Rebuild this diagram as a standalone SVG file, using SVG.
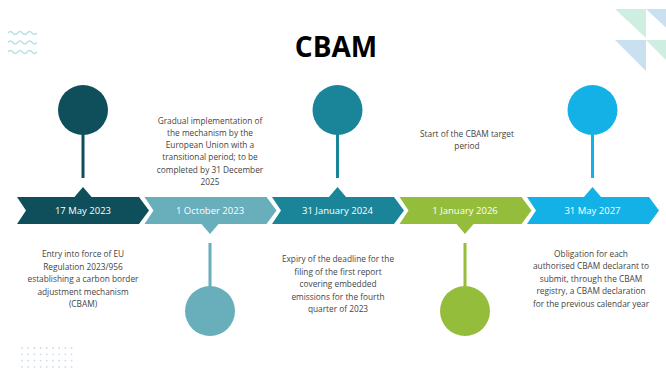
<svg xmlns="http://www.w3.org/2000/svg" width="666" height="372" viewBox="0 0 666 372">
<style>
.lbl{font-family:"Open Sans","Liberation Sans",sans-serif;font-size:9.5px;fill:#ffffff;text-anchor:middle}
.desc{font-family:"Open Sans","Liberation Sans",sans-serif;font-size:8.3px;fill:#444444;text-anchor:middle}
.title{font-family:"Open Sans","Liberation Sans",sans-serif;font-size:28px;font-weight:bold;fill:#000000;text-anchor:middle}
.wave{fill:none;stroke:#b5e0e4;stroke-width:1.3}
.dot{fill:#cddcea}
</style>
<defs>
<path id="chev" d="M0,197 H122 L132,210.5 L122,224 H0 L9,210.5 Z"/>
</defs>
<rect width="666" height="372" fill="#ffffff"/>
<g id="decor">
<path class="wave" d="M8,33 q2.4,-3 4.8,0 t4.8,0 t4.8,0 t4.8,0 t4.8,0 t4.8,0"/>
<path class="wave" d="M8,42.5 q2.4,-3 4.8,0 t4.8,0 t4.8,0 t4.8,0 t4.8,0 t4.8,0"/>
<path class="wave" d="M8,52 q2.4,-3 4.8,0 t4.8,0 t4.8,0 t4.8,0 t4.8,0 t4.8,0"/>
<polygon points="615,9 646,9 646,38" fill="#cdeee0"/>
<polygon points="646,9 677,9 677,38" fill="#c8e0ef"/>
<polygon points="615,40 646,40 646,71" fill="#c8e0ef"/>
<polygon points="646,40 677,40 677,71" fill="#cdeee0"/>
<g id="dots">
<circle class="dot" cx="22" cy="348" r="0.9"/><circle class="dot" cx="28.2" cy="348" r="0.9"/><circle class="dot" cx="34.4" cy="348" r="0.9"/><circle class="dot" cx="40.6" cy="348" r="0.9"/><circle class="dot" cx="46.8" cy="348" r="0.9"/><circle class="dot" cx="53" cy="348" r="0.9"/><circle class="dot" cx="59.2" cy="348" r="0.9"/><circle class="dot" cx="65.4" cy="348" r="0.9"/><circle class="dot" cx="71.6" cy="348" r="0.9"/>
<circle class="dot" cx="22" cy="354.3" r="0.9"/><circle class="dot" cx="28.2" cy="354.3" r="0.9"/><circle class="dot" cx="34.4" cy="354.3" r="0.9"/><circle class="dot" cx="40.6" cy="354.3" r="0.9"/><circle class="dot" cx="46.8" cy="354.3" r="0.9"/><circle class="dot" cx="53" cy="354.3" r="0.9"/><circle class="dot" cx="59.2" cy="354.3" r="0.9"/><circle class="dot" cx="65.4" cy="354.3" r="0.9"/><circle class="dot" cx="71.6" cy="354.3" r="0.9"/>
<circle class="dot" cx="22" cy="360.6" r="0.9"/><circle class="dot" cx="28.2" cy="360.6" r="0.9"/><circle class="dot" cx="34.4" cy="360.6" r="0.9"/><circle class="dot" cx="40.6" cy="360.6" r="0.9"/><circle class="dot" cx="46.8" cy="360.6" r="0.9"/><circle class="dot" cx="53" cy="360.6" r="0.9"/><circle class="dot" cx="59.2" cy="360.6" r="0.9"/><circle class="dot" cx="65.4" cy="360.6" r="0.9"/><circle class="dot" cx="71.6" cy="360.6" r="0.9"/>
<circle class="dot" cx="22" cy="366.9" r="0.9"/><circle class="dot" cx="28.2" cy="366.9" r="0.9"/><circle class="dot" cx="34.4" cy="366.9" r="0.9"/><circle class="dot" cx="40.6" cy="366.9" r="0.9"/><circle class="dot" cx="46.8" cy="366.9" r="0.9"/><circle class="dot" cx="53" cy="366.9" r="0.9"/><circle class="dot" cx="59.2" cy="366.9" r="0.9"/><circle class="dot" cx="65.4" cy="366.9" r="0.9"/><circle class="dot" cx="71.6" cy="366.9" r="0.9"/>
</g>
</g>
<text class="title" x="336" y="57">CBAM</text>
<g id="connectors">
<rect x="81.5" y="134" width="3" height="44" fill="#0e4f5b"/>
<rect x="208.5" y="243" width="3" height="44" fill="#68aebb"/>
<rect x="336" y="134" width="3" height="44" fill="#1a8599"/>
<rect x="463.5" y="243" width="3" height="44" fill="#94bd3b"/>
<rect x="591" y="134" width="3" height="44" fill="#14b1e7"/>
</g>
<g id="event1">
<use href="#chev" x="17" fill="#0e4f5b"/>
<polygon points="74,197.5 83,187 92,197.5" fill="#0e4f5b"/>
<circle cx="83" cy="110" r="25" fill="#0e4f5b"/>
<text class="lbl" x="83" y="214">17 May 2023</text>
<text class="desc" x="83" y="257">Entry into force of EU</text>
<text class="desc" x="83" y="269.5">Regulation 2023/956</text>
<text class="desc" x="83" y="282">establishing a carbon border</text>
<text class="desc" x="83" y="294.5">adjustment mechanism</text>
<text class="desc" x="83" y="307">(CBAM)</text>
</g>
<g id="event2">
<use href="#chev" x="144.5" fill="#68aebb"/>
<polygon points="201,223.5 219,223.5 210,234" fill="#68aebb"/>
<circle cx="210" cy="311" r="25" fill="#68aebb"/>
<text class="lbl" x="210" y="214">1 October 2023</text>
<text class="desc" x="210" y="123.5">Gradual implementation of</text>
<text class="desc" x="210" y="135.8">the mechanism by the</text>
<text class="desc" x="210" y="148.1">European Union with a</text>
<text class="desc" x="210" y="160.4">transitional period; to be</text>
<text class="desc" x="210" y="172.7">completed by 31 December</text>
<text class="desc" x="210" y="185">2025</text>
</g>
<g id="event3">
<use href="#chev" x="272" fill="#1a8599"/>
<polygon points="328.5,197.5 337.5,187 346.5,197.5" fill="#1a8599"/>
<circle cx="337.5" cy="110" r="25" fill="#1a8599"/>
<text class="lbl" x="337.5" y="214">31 January 2024</text>
<text class="desc" x="338" y="262">Expiry of the deadline for the</text>
<text class="desc" x="338" y="274.5">filing of the first report</text>
<text class="desc" x="338" y="287">covering embedded</text>
<text class="desc" x="338" y="299.5">emissions for the fourth</text>
<text class="desc" x="338" y="312">quarter of 2023</text>
</g>
<g id="event4">
<use href="#chev" x="399.5" fill="#94bd3b"/>
<polygon points="456,223.5 474,223.5 465,234" fill="#94bd3b"/>
<circle cx="465" cy="311" r="25" fill="#94bd3b"/>
<text class="lbl" x="465" y="214">1 January 2026</text>
<text class="desc" x="467" y="136.5">Start of the CBAM target</text>
<text class="desc" x="467" y="149">period</text>
</g>
<g id="event5">
<use href="#chev" x="527" fill="#14b1e7"/>
<polygon points="583.5,197.5 592.5,187 601.5,197.5" fill="#14b1e7"/>
<circle cx="592.5" cy="110" r="25" fill="#14b1e7"/>
<text class="lbl" x="592.5" y="214">31 May 2027</text>
<text class="desc" x="591" y="256.5">Obligation for each</text>
<text class="desc" x="591" y="269">authorised CBAM declarant to</text>
<text class="desc" x="591" y="281.5">submit, through the CBAM</text>
<text class="desc" x="591" y="294">registry, a CBAM declaration</text>
<text class="desc" x="591" y="306.5">for the previous calendar year</text>
</g>
</svg>
